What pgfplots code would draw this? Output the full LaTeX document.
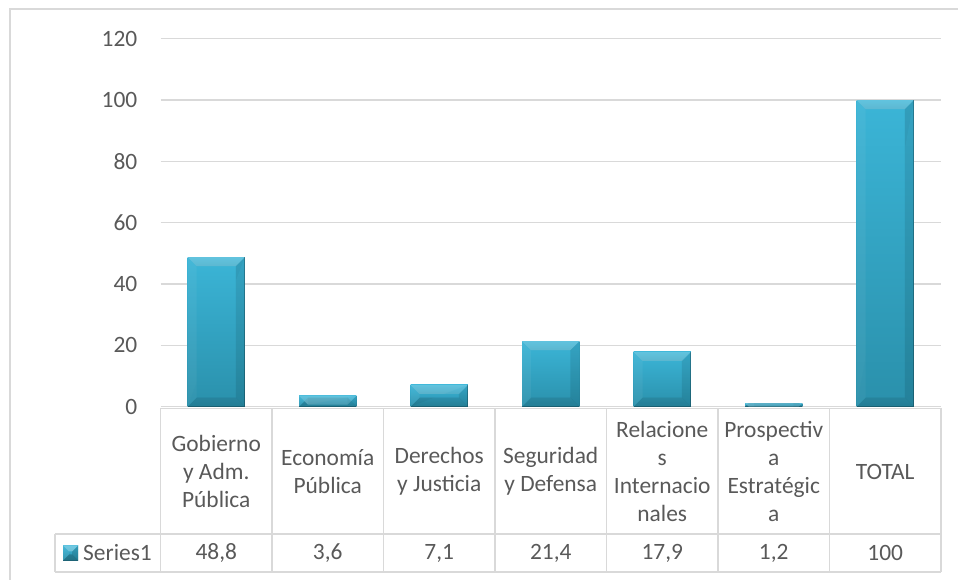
\documentclass[border=0pt]{standalone}
\usepackage{pgfplots}
\usepackage{pgfplotstable}
\pgfplotsset{compat=1.18}
\usepackage{fontspec}
\setmainfont{Carlito}
\definecolor{txt}{HTML}{595959}
\definecolor{gridgray}{HTML}{D9D9D9}
\definecolor{facetop}{HTML}{3BB5D7}
\definecolor{facebot}{HTML}{2A90AB}
\tikzset{
 bevel/.style={
  top color=facetop, bottom color=facebot, draw=none,
  path picture={
   \path[path picture={}] (path picture bounding box.north west) coordinate (bvNW)
         (path picture bounding box.north east) coordinate (bvNE)
         (path picture bounding box.south west) coordinate (bvSW)
         (path picture bounding box.south east) coordinate (bvSE);
   \fill[black, opacity=0.22, path picture={}] (bvSW) -- (bvSE) -- ([xshift=-#1,yshift=#1]bvSE) -- ([xshift=#1,yshift=#1]bvSW) -- cycle;
   \fill[white, opacity=0.06, path picture={}] (bvNW) -- ([xshift=#1,yshift=-#1]bvNW) -- ([xshift=#1,yshift=#1]bvSW) -- (bvSW) -- cycle;
   \fill[black, opacity=0.14, path picture={}] (bvNE) -- ([xshift=-#1,yshift=-#1]bvNE) -- ([xshift=-#1,yshift=#1]bvSE) -- (bvSE) -- cycle;
   \fill[white, opacity=0.28, path picture={}] (bvNW) -- (bvNE) -- ([xshift=-#1,yshift=-#1]bvNE) -- ([xshift=#1,yshift=-#1]bvNW) -- cycle;
   \draw[black, opacity=0.25, line width=1bp, path picture={}] (bvNE) -- (bvSE) -- (bvSW);
  }
 },
 bevel/.default=9bp
}
\pgfplotstableread{
idx val
0 48.8
1 3.6
2 7.1
3 21.4
4 17.9
5 1.2
6 100
}\datatable
\begin{document}
\begin{tikzpicture}
\useasboundingbox (0,0) rectangle (958bp,580bp);
\draw[gridgray, line width=1.2bp] (10bp,-5bp) -- (10bp,571bp) -- (965bp,571bp);
\begin{axis}[
  at={(160.5bp,173.3bp)}, anchor=south west,
  scale only axis, width=780.5bp, height=368bp,
  xmin=-0.5, xmax=6.5, ymin=0, ymax=120,
  ytick={0,20,...,120},
  xtick={0,...,6},
  xticklabels={{Gobierno\\y Adm.\\Pública},{Economía\\Pública},{Derechos\\y Justicia},{Seguridad\\y Defensa},{Relacione\\s\\Internacio\\nales},{Prospectiv\\a\\Estratégic\\a},{TOTAL}},
  axis line style={draw=none},
  ymajorgrids, grid style={gridgray, line width=1.3bp},
  major tick length=0pt,
  /pgf/number format/assume math mode=true,
  tick label style={font=\fontsize{23.5}{28}\selectfont, text=txt},
  yticklabel style={anchor=east, inner sep=0pt, xshift=-23bp},
  xticklabel style={anchor=center, align=center, inner sep=0pt, yshift=-64.8bp},
  extra x ticks={0,...,6},
  extra x tick labels={{48,8},{3,6},{7,1},{21,4},{17,9},{1,2},{100}},
  extra x tick style={xticklabel style={yshift=-81.5bp}, major tick length=0pt},
  clip=false,
]
\pgfplotsinvokeforeach{0,...,6}{
  \addplot[ybar, bar width=57.4bp, bar shift=0pt, bevel, restrict x to domain=#1:#1]
    table[x=idx,y=val] {\datatable};
}
\end{axis}
\begin{scope}[gridgray, line width=1.5bp]
\draw (160.5bp,171.5bp) -- (941bp,171.5bp);
\draw (55bp,46bp) -- (941bp,46bp);
\draw (55bp,8bp) -- (941bp,8bp);
\draw (55bp,8bp) -- (55bp,46bp);
\foreach \x in {160.5,272,383.5,495,606.5,718,829.5,941} \draw (\x bp,8bp) -- (\x bp,171.5bp);
\end{scope}
\path[bevel=6bp] (63bp,19.5bp) rectangle (78bp,34.5bp);
\node[anchor=west, inner sep=0pt, text=txt, font=\fontsize{23.5}{28}\selectfont] at (83bp,27bp) {Series1};
\end{tikzpicture}
\end{document}
